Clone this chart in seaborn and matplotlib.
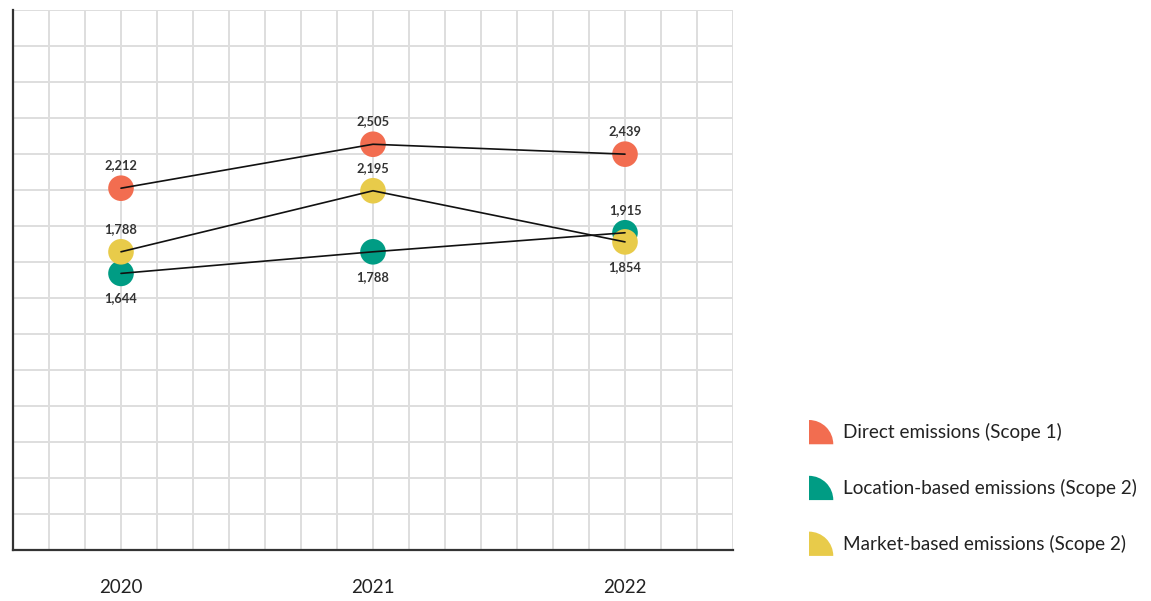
import matplotlib
matplotlib.use("Agg")
import matplotlib.pyplot as plt
from matplotlib.patches import Wedge
from matplotlib.legend_handler import HandlerPatch
from matplotlib.ticker import FixedLocator
import numpy as np
import pandas as pd
import seaborn as sns

# --- data -------------------------------------------------------------
years = ["2020", "2021", "2022"]
direct_scope1 = [2212, 2505, 2439]
location_scope2 = [1644, 1788, 1915]
market_scope2 = [1788, 2195, 1854]

series_names = [
    "Direct emissions (Scope 1)",
    "Location-based emissions (Scope 2)",
    "Market-based emissions (Scope 2)",
]
series_colors = ["#F26D50", "#009C84", "#E8CB4A"]
# label placement for each point: +1 above, -1 below
label_side = [
    [1, 1, 1],
    [-1, -1, 1],
    [1, 1, -1],
]

rows = []
for name, vals in zip(series_names, [direct_scope1, location_scope2, market_scope2]):
    for i, (yr, v) in enumerate(zip(years, vals)):
        rows.append({"year": yr, "pos": i, "value": v, "series": name})
df = pd.DataFrame(rows)

# --- figure -----------------------------------------------------------
sns.set_theme(style="white")
plt.rcParams["font.family"] = ["Lato", "DejaVu Sans"]

fig = plt.figure(figsize=(11.51, 6.01), dpi=100)
W, H = 1151, 601
ax = fig.add_axes([13 / W, 1 - 550 / H, 720 / W, 540 / H])

palette = dict(zip(series_names, series_colors))
sns.scatterplot(data=df, x="pos", y="value", hue="series", palette=palette,
                s=340, linewidth=0, legend=False, ax=ax, zorder=3)
sns.lineplot(data=df, x="pos", y="value", units="series", estimator=None,
             color="#111111", linewidth=1.2, legend=False, ax=ax, zorder=4)

# value labels
for si, (name, vals) in enumerate(zip(series_names, [direct_scope1, location_scope2, market_scope2])):
    for i, v in enumerate(vals):
        side = label_side[si][i]
        ax.annotate(f"{v:,}", (i, v), xytext=(0, 16.5 if side > 0 else -18),
                    textcoords="offset points", ha="center", va="center",
                    fontsize=9.3, fontweight="bold", color="#333333", zorder=5)

# axes range and grid
y_lo, y_hi, y_step = -200, 3400, 240
ax.set_xlim(-3 / 7, 2 + 3 / 7)
ax.set_ylim(y_lo, y_hi)
ax.xaxis.set_major_locator(FixedLocator([0, 1, 2]))
ax.xaxis.set_minor_locator(FixedLocator(np.arange(-3, 18) / 7))
ax.set_xticklabels(years)
ax.yaxis.set_major_locator(FixedLocator(np.arange(y_lo, y_hi + 1, y_step)))
ax.set_yticklabels([])
ax.grid(True, which="both", color="#dedede", linewidth=1.4)
ax.set_axisbelow(True)
ax.tick_params(axis="both", which="both", length=0)
ax.tick_params(axis="x", pad=21, labelsize=13.5, labelcolor="#222222")
ax.set_xlabel("")
ax.set_ylabel("")

for side in ["top", "right"]:
    ax.spines[side].set_visible(False)
for side in ["left", "bottom"]:
    ax.spines[side].set_color("#333333")
    ax.spines[side].set_linewidth(1.6)
    ax.spines[side].set_zorder(2.5)


# legend with quarter-circle keys
def quarter(legend, orig_handle, xdescent, ydescent, width, height, fontsize):
    r = min(width, height)
    return Wedge((-xdescent, -ydescent), r, 0, 90)


handles = [Wedge((0, 0), 1, 0, 90, facecolor=c, edgecolor="none") for c in series_colors]
fig.legend(handles, series_names, loc="upper left",
           bbox_to_anchor=(809 / W, 1 - 420 / H), frameon=False,
           fontsize=13.6, handlelength=1.35, handleheight=1.6,
           handletextpad=0.45, labelspacing=1.67, borderpad=0, borderaxespad=0,
           labelcolor="#222222",
           handler_map={Wedge: HandlerPatch(patch_func=quarter)})

fig.savefig("out.png", dpi=100)
